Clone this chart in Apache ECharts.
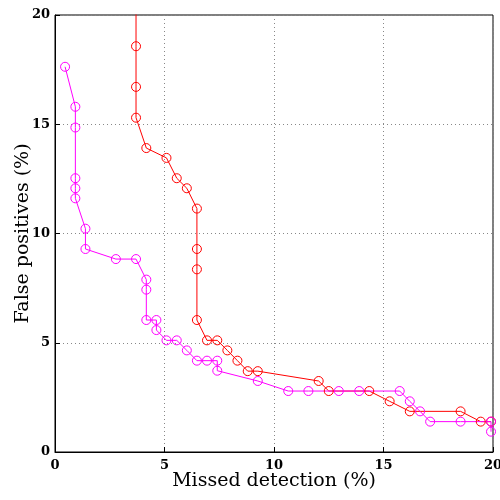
<!DOCTYPE html>
<html>
<head>
<meta charset="utf-8">
<script src="https://cdn.jsdelivr.net/npm/echarts@6/dist/echarts.min.js"></script>
<style>
  html, body { margin: 0; padding: 0; background: #fff; }
  #chart_box { width: 500px; height: 500px; }
</style>
</head>
<body>
<div id="chart_box"></div>
<script>
// red curve (first point sits above the plot, the line runs off the top)
var redX = [3.70, 3.70, 3.70, 3.70, 4.17, 5.09, 5.56, 6.02, 6.48, 6.48, 6.48, 6.48, 6.94, 7.41, 7.87, 8.33, 8.80, 9.26, 12.04, 12.50, 14.35, 15.28, 16.20, 18.52, 19.44, 19.91];
var redY = [21.0, 18.57, 16.71, 15.30, 13.91, 13.46, 12.53, 12.07, 11.14, 9.29, 8.36, 6.04, 5.11, 5.11, 4.65, 4.18, 3.70, 3.70, 3.25, 2.79, 2.79, 2.32, 1.86, 1.86, 1.39, 1.39];

// magenta curve
var magX = [0.46, 0.93, 0.93, 0.93, 0.93, 0.93, 1.39, 1.39, 2.78, 3.70, 4.17, 4.17, 4.17, 4.63, 4.63, 5.09, 5.56, 6.02, 6.48, 6.94, 7.41, 7.41, 9.26, 10.65, 11.57, 12.96, 13.89, 15.74, 16.20, 16.67, 17.13, 18.52, 19.91, 19.91];
var magY = [17.63, 15.80, 14.85, 12.53, 12.07, 11.61, 10.22, 9.29, 8.83, 8.83, 7.89, 7.43, 6.04, 6.04, 5.58, 5.11, 5.11, 4.65, 4.18, 4.18, 4.18, 3.72, 3.25, 2.79, 2.79, 2.79, 2.79, 2.79, 2.32, 1.86, 1.39, 1.39, 1.39, 0.93];

var xTicks = [0, 5, 10, 15, 20];
var yTicks = [0, 5, 10, 15, 20];

function zip(xs, ys) {
  return xs.map(function (x, i) { return [x, ys[i]]; });
}

var font = 'DejaVu Serif';

var axisCommon = {
  type: 'value',
  min: xTicks[0],
  max: xTicks[xTicks.length - 1],
  interval: 5,
  nameLocation: 'middle',
  nameMoveOverlap: false,
  nameTextStyle: { fontFamily: font, fontSize: 19, color: '#000' },
  axisLine: { show: true, lineStyle: { color: '#000', width: 1 } },
  axisTick: { show: true, inside: true, length: 5, lineStyle: { color: '#000' } },
  axisLabel: { fontFamily: font, fontSize: 13, fontWeight: 'bold', color: '#000' },
  splitLine: { show: true, lineStyle: { color: '#888', type: [1, 3], width: 1 } }
};

function lineSeries(name, xs, ys, col) {
  return {
    name: name,
    type: 'line',
    data: zip(xs, ys),
    clip: true,
    symbol: 'circle',
    symbolSize: 9,
    color: col,
    lineStyle: { width: 1, color: col },
    itemStyle: { color: 'rgba(0,0,0,0)', borderWidth: 1, borderColor: col }
  };
}

var option = {
  animation: false,
  backgroundColor: '#fff',
  grid: {
    left: 55, right: 7, top: 15, bottom: 48,
    outerBoundsMode: 'none',
    containLabel: false,
    show: true, borderColor: '#000', borderWidth: 1
  },
  xAxis: Object.assign({}, axisCommon, {
    name: 'Missed detection (%)',
    nameGap: 20,
    axisLabel: Object.assign({}, axisCommon.axisLabel, { margin: 7 })
  }),
  yAxis: Object.assign({}, axisCommon, {
    min: yTicks[0],
    max: yTicks[yTicks.length - 1],
    name: 'False positives (%)',
    nameGap: 22,
    axisLabel: Object.assign({}, axisCommon.axisLabel, { margin: 5 })
  }),
  series: [
    lineSeries('red', redX, redY, '#ff0000'),
    lineSeries('magenta', magX, magY, '#ff00ff')
  ]
};

var myChart = echarts.init(document.getElementById('chart_box'));
myChart.setOption(option);
</script>
</body>
</html>
